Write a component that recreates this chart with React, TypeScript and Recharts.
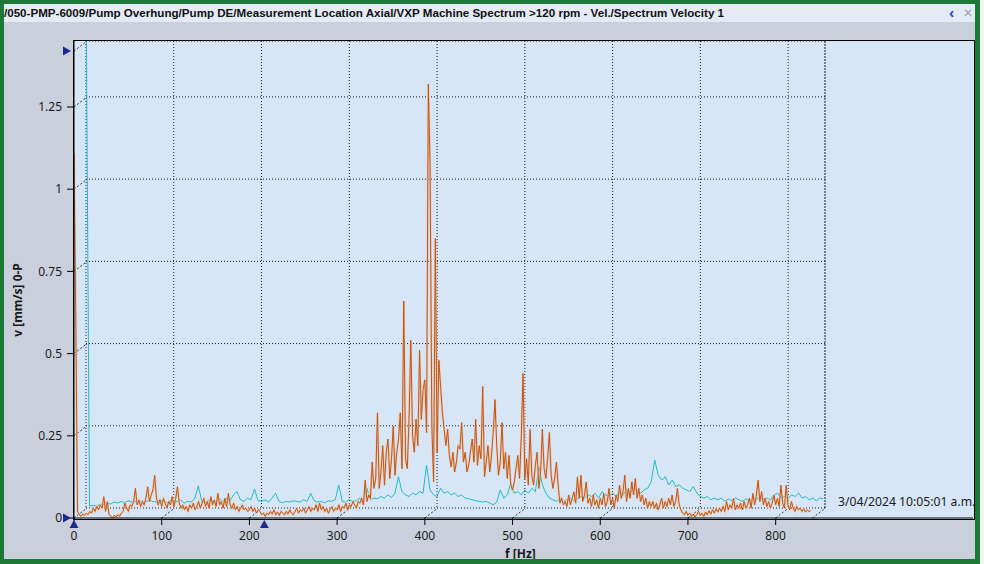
import React from "react";
import {
  LineChart,
  Line,
  XAxis,
  YAxis,
  CartesianGrid,
  ReferenceLine,
  ReferenceDot,
} from "recharts";

// orange trace, one value every 2 Hz from 0 Hz (front plane)
const ORANGE_STEP = 2;
const ORANGE_VALUES = [
  1.11, 0.62, 0.02, 0.01, 0.005, 0.012, 0.008, 0.015, 0.01, 0.02,
  0.015, 0.03, 0.02, 0.035, 0.025, 0.04, 0.03, 0.065, 0.02, 0.05,
  0.01, 0.005, 0.0, 0.008, 0.003, 0.01, 0.005, 0.015, 0.02, 0.045,
  0.03, 0.02, 0.04, 0.035, 0.05, 0.09, 0.04, 0.055, 0.035, 0.05,
  0.04, 0.06, 0.095, 0.05, 0.07, 0.085, 0.13, 0.06, 0.04, 0.055,
  0.035, 0.06, 0.045, 0.03, 0.05, 0.04, 0.065, 0.035, 0.06, 0.095,
  0.045, 0.03, 0.04, 0.025, 0.035, 0.02, 0.04, 0.03, 0.045, 0.025,
  0.035, 0.05, 0.03, 0.045, 0.06, 0.035, 0.05, 0.03, 0.065, 0.04,
  0.055, 0.035, 0.075, 0.04, 0.05, 0.03, 0.06, 0.035, 0.075, 0.04,
  0.03, 0.045, 0.025, 0.035, 0.02, 0.03, 0.04, 0.025, 0.03, 0.02,
  0.025, 0.035, 0.02, 0.03, 0.015, 0.025, 0.02, 0.01, 0.015, 0.005,
  0.015, 0.01, 0.02, 0.012, 0.025, 0.01, 0.018, 0.008, 0.02, 0.015,
  0.01, 0.02, 0.012, 0.025, 0.015, 0.01, 0.02, 0.03, 0.015, 0.025,
  0.02, 0.03, 0.015, 0.025, 0.035, 0.02, 0.03, 0.025, 0.04, 0.02,
  0.045, 0.025, 0.035, 0.02, 0.03, 0.015, 0.025, 0.035, 0.02, 0.03,
  0.025, 0.04, 0.02, 0.035, 0.03, 0.045, 0.025, 0.04, 0.035, 0.05,
  0.04, 0.03, 0.05, 0.045, 0.06, 0.04, 0.115, 0.05, 0.07, 0.06,
  0.17, 0.09, 0.12, 0.32, 0.09, 0.14, 0.22, 0.1, 0.2, 0.24,
  0.12, 0.18, 0.28, 0.13, 0.2, 0.24, 0.32, 0.15, 0.66, 0.18,
  0.15, 0.3, 0.54, 0.25, 0.2, 0.3, 0.22, 0.51, 0.3, 0.39,
  0.42, 0.26, 1.32, 1.07, 0.28, 0.11, 0.85, 0.2, 0.48, 0.4,
  0.32, 0.27, 0.22, 0.27, 0.19, 0.155, 0.2, 0.14, 0.17, 0.22,
  0.21, 0.29, 0.17, 0.2, 0.14, 0.16, 0.2, 0.24, 0.17, 0.3,
  0.16, 0.22, 0.18, 0.4, 0.125, 0.17, 0.22, 0.14, 0.19, 0.26,
  0.36, 0.22, 0.13, 0.17, 0.29, 0.15, 0.2, 0.12, 0.19, 0.1,
  0.085, 0.11, 0.15, 0.19, 0.12, 0.25, 0.44, 0.12, 0.18, 0.1,
  0.27, 0.13, 0.1, 0.16, 0.2, 0.09, 0.14, 0.27, 0.15, 0.12,
  0.18, 0.26, 0.13, 0.09, 0.12, 0.17, 0.1, 0.045, 0.06, 0.04,
  0.05, 0.035, 0.07, 0.04, 0.06, 0.08, 0.045, 0.125, 0.06, 0.13,
  0.05, 0.07, 0.11, 0.045, 0.06, 0.035, 0.07, 0.04, 0.055, 0.03,
  0.06, 0.04, 0.075, 0.035, 0.05, 0.09, 0.04, 0.06, 0.03, 0.07,
  0.05, 0.1, 0.06, 0.08, 0.13, 0.05, 0.09, 0.06, 0.11, 0.07,
  0.12, 0.06, 0.09, 0.05, 0.07, 0.04, 0.06, 0.03, 0.05, 0.035,
  0.05, 0.03, 0.045, 0.025, 0.04, 0.06, 0.03, 0.05, 0.035, 0.06,
  0.04, 0.07, 0.035, 0.05, 0.09, 0.04, 0.025, 0.015, 0.01, 0.02,
  0.008, 0.015, 0.005, 0.012, 0.003, 0.01, 0.02, 0.008, 0.015, 0.005,
  0.018, 0.01, 0.022, 0.012, 0.025, 0.015, 0.028, 0.018, 0.03, 0.02,
  0.035, 0.02, 0.05, 0.025, 0.04, 0.03, 0.06, 0.025, 0.04, 0.03,
  0.045, 0.025, 0.05, 0.03, 0.04, 0.06, 0.03, 0.075, 0.04, 0.07,
  0.115, 0.05, 0.08, 0.04, 0.06, 0.035, 0.05, 0.03, 0.045, 0.07,
  0.04, 0.06, 0.035, 0.1, 0.045, 0.03, 0.1, 0.04, 0.025, 0.05,
  0.03, 0.02, 0.035, 0.025, 0.03, 0.02, 0.028, 0.018, 0.025, 0.02,
  0.022,
];

// cyan trace, one value every 4 Hz from 0 Hz (back plane)
const CYAN_STEP = 4;
const CYAN_VALUES = [
  1.6,
  0.006, 0.008, 0.006, 0.01, 0.012, 0.015, 0.012, 0.018, 0.015,
  0.02, 0.016, 0.022, 0.018, 0.02, 0.015, 0.022, 0.018, 0.024, 0.02,
  0.018, 0.025, 0.02, 0.016, 0.022, 0.018, 0.02, 0.024, 0.015, 0.02,
  0.018, 0.03, 0.067, 0.02, 0.016, 0.024, 0.02, 0.018, 0.028, 0.02,
  0.03, 0.022, 0.04, 0.05, 0.025, 0.02, 0.03, 0.025, 0.058, 0.022,
  0.02, 0.025, 0.018, 0.03, 0.045, 0.02, 0.016, 0.02, 0.018, 0.022,
  0.02, 0.018, 0.025, 0.02, 0.045, 0.022, 0.018, 0.02, 0.016, 0.022,
  0.02, 0.025, 0.07, 0.02, 0.018, 0.025, 0.02, 0.022, 0.03, 0.025,
  0.06, 0.025, 0.03, 0.028, 0.035, 0.03, 0.04, 0.032, 0.045, 0.095,
  0.05, 0.04, 0.035, 0.045, 0.04, 0.05, 0.045, 0.13, 0.055, 0.04,
  0.035, 0.06, 0.045, 0.05, 0.04, 0.045, 0.035, 0.04, 0.03, 0.028,
  0.025, 0.022, 0.02, 0.018, 0.02, 0.015, 0.01, 0.018, 0.055, 0.03,
  0.04, 0.075, 0.045, 0.05, 0.04, 0.055, 0.045, 0.06, 0.05, 0.125,
  0.07, 0.045, 0.03, 0.025, 0.02, 0.028, 0.02, 0.025, 0.03, 0.022,
  0.028, 0.035, 0.03, 0.04, 0.035, 0.045, 0.03, 0.05, 0.04, 0.035,
  0.045, 0.035, 0.05, 0.04, 0.055, 0.045, 0.06, 0.05, 0.045, 0.055,
  0.06, 0.08, 0.146, 0.1, 0.085, 0.095, 0.07, 0.085, 0.065, 0.07,
  0.06, 0.055, 0.05, 0.065, 0.045, 0.035, 0.03, 0.035, 0.025, 0.03,
  0.025, 0.03, 0.02, 0.028, 0.022, 0.03, 0.025, 0.02, 0.028, 0.022,
  0.03, 0.025, 0.035, 0.028, 0.03, 0.025, 0.04, 0.045, 0.03, 0.035,
  0.03, 0.04, 0.035, 0.045, 0.03, 0.035, 0.025, 0.03, 0.022, 0.03,
  0.028,
];

const X_TICKS = [0, 100, 200, 300, 400, 500, 600, 700, 800];
const Y_TICKS = [0, 0.25, 0.5, 0.75, 1, 1.25];
const SPECTRUM_END_HZ = 842;
const RANGE_TOP = 1.42;
const CURSOR_HZ = 217;

const TITLE =
  "/050-PMP-6009/Pump Overhung/Pump DE/Measurement Location Axial/VXP Machine Spectrum >120 rpm - Vel./Spectrum Velocity 1";
const TIMESTAMP = "3/04/2024 10:05:01 a.m.";

const orangeData = ORANGE_VALUES.map((v, i) => ({ f: i * ORANGE_STEP, v }));
const cyanData = CYAN_VALUES.map((v, i) => ({ f: i * CYAN_STEP, v }));

// the back plane sits 13px right and 10px up from the front plane
const DX_HZ = 13 / 0.8771;
const DY_V = 10 / 328.8;

const FONT = "'Noto Sans', 'DejaVu Sans', sans-serif";
const NAVY = "#1b2a8f";

const triRight = (props: any) => {
  const { cx, cy } = props;
  return <path d={`M${cx - 11},${cy - 4.5} L${cx - 3},${cy} L${cx - 11},${cy + 4.5} Z`} fill={NAVY} />;
};
const triUp = (props: any) => {
  const { cx, cy } = props;
  return <path d={`M${cx - 4.5},${cy + 10} L${cx},${cy + 2} L${cx + 4.5},${cy + 10} Z`} fill={NAVY} />;
};

export default function App() {
  const diagY = [...Y_TICKS, RANGE_TOP];
  const diagX = [...X_TICKS.slice(1), SPECTRUM_END_HZ];
  return (
    <div
      style={{
        position: "absolute",
        left: 0,
        top: 0,
        width: 984,
        height: 564,
        background: "#c9d0db",
        fontFamily: FONT,
        overflow: "hidden",
      }}
    >
      {/* title bar */}
      <div
        style={{
          position: "absolute",
          left: 0,
          top: 0,
          width: 984,
          height: 22,
          background: "#e4ebf4",
        }}
      />
      <div
        style={{
          position: "absolute",
          left: 4,
          top: 6,
          fontFamily: "'Liberation Sans', Arial, sans-serif",
          fontWeight: "bold",
          fontSize: 11.6,
          color: "#111",
          whiteSpace: "nowrap",
        }}
      >
        {TITLE}
      </div>
      <div style={{ position: "absolute", left: 949, top: 3, fontSize: 14, fontWeight: "bold", color: "#2050c0" }}>‹</div>
      <div style={{ position: "absolute", left: 963, top: 4, fontSize: 12, color: "#9aa3b0" }}>✕</div>

      {/* plot frame */}
      <div
        style={{
          position: "absolute",
          left: 73,
          top: 40,
          width: 900,
          height: 478,
          background: "#d6e6f6",
          border: "1px solid #000",
        }}
      />

      {/* back plane: grid and cyan trace */}
      <div style={{ position: "absolute", left: 0, top: 0 }}>
        <LineChart width={984} height={564} data={cyanData} margin={{ top: 41, right: 159, bottom: 56, left: 86 }}>
          <CartesianGrid stroke="#1a1a1a" strokeDasharray="1 2" />
          <XAxis dataKey="f" type="number" domain={[0, SPECTRUM_END_HZ]} ticks={X_TICKS} hide allowDataOverflow />
          <YAxis domain={[0, RANGE_TOP]} ticks={Y_TICKS} hide allowDataOverflow />
          <ReferenceLine x={SPECTRUM_END_HZ} stroke="#1a1a1a" strokeDasharray="1 2" />
          <Line
            dataKey="v"
            stroke="#22bcc2"
            strokeWidth={1}
            dot={false}
            type="linear"
            isAnimationActive={false}
          />
        </LineChart>
      </div>

      {/* front plane: axes and orange trace */}
      <div style={{ position: "absolute", left: 0, top: 0 }}>
        <LineChart width={984} height={564} data={orangeData} margin={{ top: 41, right: 11, bottom: 6, left: 0 }}>
          <XAxis
            dataKey="f"
            type="number"
            domain={[0, 1025]}
            ticks={X_TICKS}
            height={40}
            tickSize={7}
            tickMargin={6}
            allowDataOverflow
            stroke="#000"
            tick={{ fill: "#1a1a1a", fontSize: 12, fontFamily: FONT }}
          />
          <YAxis
            domain={[0, 1.4507]}
            ticks={Y_TICKS}
            width={74}
            tickSize={7}
            tickMargin={5}
            allowDataOverflow
            stroke="#000"
            tick={{ fill: "#1a1a1a", fontSize: 12, fontFamily: FONT }}
          />
          {diagY.map((y) => (
            <ReferenceLine
              key={"dy" + y}
              segment={[
                { x: 0, y },
                { x: DX_HZ, y: y + DY_V },
              ]}
              stroke="#333"
              strokeDasharray="2 2"
              ifOverflow="visible"
            />
          ))}
          {diagX.map((x) => (
            <ReferenceLine
              key={"dx" + x}
              segment={[
                { x, y: 0 },
                { x: x + DX_HZ, y: DY_V },
              ]}
              stroke="#333"
              strokeDasharray="2 2"
              ifOverflow="visible"
            />
          ))}
          <Line
            dataKey="v"
            stroke="#f1c6a6"
            strokeWidth={2.2}
            strokeOpacity={0.75}
            dot={false}
            type="linear"
            isAnimationActive={false}
          />
          <Line
            dataKey="v"
            stroke="#bf5519"
            strokeWidth={1}
            dot={false}
            type="linear"
            isAnimationActive={false}
          />
          <ReferenceDot x={0} y={RANGE_TOP} r={5} ifOverflow="visible" shape={triRight} />
          <ReferenceDot x={0} y={0} r={5} ifOverflow="visible" shape={triRight} />
          <ReferenceDot x={0} y={0} r={5} ifOverflow="visible" shape={triUp} />
          <ReferenceDot x={CURSOR_HZ} y={0} r={5} ifOverflow="visible" shape={triUp} />
        </LineChart>
      </div>

      {/* axis titles and timestamp */}
      <div
        style={{
          position: "absolute",
          left: 505,
          top: 545,
          fontSize: 12,
          fontWeight: "bold",
          color: "#1a1a1a",
          whiteSpace: "nowrap",
        }}
      >
        f [Hz]
      </div>
      <div
        style={{
          position: "absolute",
          left: 17,
          top: 300,
          fontSize: 12,
          fontWeight: "bold",
          color: "#1a1a1a",
          whiteSpace: "nowrap",
          transform: "translate(-50%, -50%) rotate(-90deg)",
        }}
      >
        v [mm/s] 0-P
      </div>
      <div
        style={{
          position: "absolute",
          left: 838,
          top: 493,
          fontSize: 12.2,
          color: "#1a1a1a",
          whiteSpace: "nowrap",
        }}
      >
        {TIMESTAMP}
      </div>

      {/* window border */}
      <div
        style={{
          position: "absolute",
          left: 0,
          top: 0,
          width: 980,
          height: 564,
          boxSizing: "border-box",
          borderTop: "4px solid #1d7a36",
          borderLeft: "4px solid #1d7a36",
          borderRight: "5px solid #1d7a36",
          borderBottom: "5px solid #1d7a36",
        }}
      />
      <div style={{ position: "absolute", left: 980, top: 0, width: 4, height: 564, background: "#f4f4f4" }} />
    </div>
  );
}
